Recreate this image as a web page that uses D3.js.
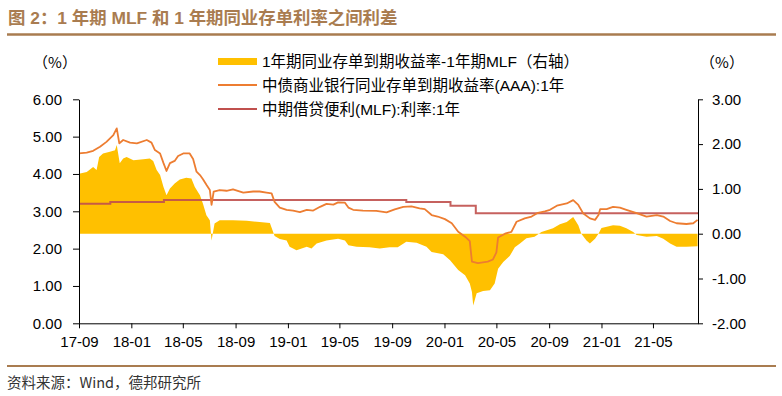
<!DOCTYPE html>
<html>
<head>
<meta charset="utf-8">
<script src="https://cdn.jsdelivr.net/npm/d3@7"></script>
<style>
  body { margin: 0; background: #fff; }
  text { font-family: "Liberation Sans", Arial, "Noto Sans CJK SC", sans-serif; }
</style>
</head>
<body>
<svg id="chart" width="782" height="396"></svg>
<script>
// 1Y NCD (AAA) yield, left axis, %
var ncdSeries = [
  ["2017-09-01",4.55],["2017-09-19",4.57],["2017-10-04",4.62],["2017-10-20",4.73],["2017-11-04",4.86],
  ["2017-11-20",5.04],["2017-11-28",5.22],["2017-12-04",4.82],["2017-12-13",4.91],["2017-12-29",4.84],
  ["2018-01-14",4.82],["2018-02-06",4.91],["2018-02-17",4.84],["2018-02-25",4.64],["2018-03-09",4.55],
  ["2018-03-17",4.29],["2018-03-24",4.08],["2018-04-01",4.29],["2018-04-12",4.35],["2018-04-20",4.48],
  ["2018-05-02",4.55],["2018-05-17",4.55],["2018-05-25",4.40],["2018-06-02",4.06],["2018-06-10",3.97],
  ["2018-06-17",3.86],["2018-06-25",3.71],["2018-07-03",3.57],["2018-07-07",3.17],["2018-07-12",3.53],
  ["2018-07-26",3.57],["2018-08-11",3.55],["2018-08-26",3.59],["2018-09-19",3.50],["2018-10-12",3.53],
  ["2018-10-27",3.53],["2018-11-12",3.50],["2018-11-24",3.48],["2018-12-01",3.25],["2018-12-13",3.10],
  ["2018-12-29",3.04],["2019-01-13",3.02],["2019-01-29",2.98],["2019-02-14",3.04],["2019-03-01",3.02],
  ["2019-03-17",3.12],["2019-04-01",3.20],["2019-04-17",3.18],["2019-04-28",3.24],["2019-05-14",3.23],
  ["2019-05-22",3.10],["2019-06-02",3.04],["2019-06-25",3.02],["2019-07-26",3.01],["2019-08-19",2.97],
  ["2019-09-07",3.05],["2019-09-27",3.12],["2019-10-16",3.13],["2019-11-04",3.08],["2019-11-16",3.06],
  ["2019-12-02",2.90],["2019-12-16",2.86],["2020-01-02",2.79],["2020-01-18",2.68],["2020-02-02",2.45],
  ["2020-02-18",2.32],["2020-02-29",2.20],["2020-03-05",1.65],["2020-03-19",1.61],["2020-04-11",1.65],
  ["2020-04-23",1.71],["2020-05-01",1.90],["2020-05-05",2.30],["2020-05-21",2.40],["2020-06-05",2.45],
  ["2020-06-17",2.72],["2020-07-06",2.81],["2020-07-22",2.86],["2020-08-06",2.96],["2020-08-22",3.00],
  ["2020-09-03",3.04],["2020-09-19",3.15],["2020-10-12",3.21],["2020-10-27",3.30],["2020-11-08",3.17],
  ["2020-11-19",2.95],["2020-12-05",2.81],["2020-12-17",2.77],["2020-12-25",2.90],["2020-12-29",3.06],
  ["2021-01-13",3.06],["2021-01-28",3.12],["2021-02-13",3.10],["2021-02-28",3.04],["2021-03-24",2.95],
  ["2021-04-16",2.86],["2021-05-10",2.90],["2021-05-25",2.86],["2021-06-10",2.74],["2021-06-25",2.68],
  ["2021-07-18",2.66],["2021-08-03",2.68],["2021-08-13",2.77]
]

// 1Y NCD minus 1Y MLF, right axis, %
var spreadSeries = [
  ["2017-09-01",1.34],["2017-09-19",1.38],["2017-10-04",1.49],["2017-10-12",1.42],["2017-10-18",1.71],
  ["2017-10-27",1.79],["2017-11-12",1.83],["2017-11-24",1.86],["2017-11-28",1.98],["2017-12-05",1.57],
  ["2017-12-13",1.68],["2017-12-21",1.71],["2018-01-06",1.64],["2018-01-29",1.66],["2018-02-13",1.68],
  ["2018-02-21",1.62],["2018-03-01",1.42],["2018-03-09",1.31],["2018-03-17",1.04],["2018-03-24",0.86],
  ["2018-04-01",1.01],["2018-04-12",1.12],["2018-04-24",1.21],["2018-05-09",1.25],["2018-05-21",1.23],
  ["2018-05-29",1.04],["2018-06-10",0.86],["2018-06-17",0.67],["2018-06-25",0.41],["2018-07-03",0.30],
  ["2018-07-07",-0.15],["2018-07-14",0.23],["2018-07-26",0.30],["2018-08-26",0.30],["2018-09-27",0.29],
  ["2018-10-27",0.26],["2018-11-20",0.24],["2018-12-01",-0.05],["2018-12-13",-0.12],["2018-12-29",-0.15],
  ["2019-01-05",-0.29],["2019-01-21",-0.37],["2019-02-14",-0.29],["2019-02-25",-0.33],["2019-03-09",-0.22],
  ["2019-04-01",-0.15],["2019-04-28",-0.11],["2019-05-14",-0.15],["2019-05-22",-0.26],["2019-06-10",-0.29],
  ["2019-07-10",-0.30],["2019-08-03",-0.33],["2019-08-26",-0.30],["2019-09-14",-0.30],["2019-10-04",-0.18],
  ["2019-10-28",-0.20],["2019-11-20",-0.29],["2019-12-02",-0.41],["2019-12-29",-0.46],["2020-01-14",-0.59],
  ["2020-02-02",-0.81],["2020-02-18",-0.93],["2020-02-29",-1.11],["2020-03-05",-1.30],["2020-03-08",-1.60],
  ["2020-03-16",-1.33],["2020-03-31",-1.28],["2020-04-16",-1.26],["2020-04-27",-1.11],["2020-05-05",-0.78],
  ["2020-05-17",-0.63],["2020-06-01",-0.50],["2020-06-13",-0.30],["2020-06-25",-0.22],["2020-07-10",-0.10],
  ["2020-07-29",-0.07],["2020-08-14",0.04],["2020-09-10",0.12],["2020-09-26",0.21],["2020-10-12",0.26],
  ["2020-10-27",0.37],["2020-11-08",0.19],["2020-11-15",0.00],["2020-11-27",-0.15],["2020-12-05",-0.22],
  ["2020-12-17",-0.11],["2020-12-25",0.00],["2021-01-01",0.13],["2021-01-28",0.19],["2021-02-13",0.18],
  ["2021-02-28",0.12],["2021-03-16",0.04],["2021-03-24",-0.03],["2021-04-16",-0.07],["2021-05-10",-0.05],
  ["2021-05-25",-0.11],["2021-06-10",-0.22],["2021-06-25",-0.29],["2021-07-18",-0.29],["2021-08-13",-0.28]
]

// MLF 1Y rate changes (step line), left axis
var mlfSeries = [
  ["2017-09-01",3.20],["2017-11-13",3.25],["2018-03-18",3.30],
  ["2019-10-04",3.25],["2020-01-15",3.15],["2020-03-14",2.95]
]

var leftTicks = [0, 1, 2, 3, 4, 5, 6]
var rightTicks = [-2, -1, 0, 1, 2, 3]
var xTickLabels = ["17-09","18-01","18-05","18-09","19-01","19-05","19-09","20-01","20-05","20-09","21-01","21-05"]

var legendNames = ["1年期同业存单到期收益率-1年期MLF（右轴）", "中债商业银行同业存单到期收益率(AAA):1年", "中期借贷便利(MLF):利率:1年"]
var colors = { spread: "#FFC000", ncd: "#ED7D31", mlf: "#C0504D" }

var parse = d3.timeParse("%Y-%m-%d")
var parseTick = d3.timeParse("%y-%m")
var endDate = parse("2021-08-14")

var svg = d3.select("#chart")
svg.append("rect").attr("width", 782).attr("height", 396).attr("fill", "#fff")

// ---------- title ----------
svg.append("text")
  .attr("x", 8).attr("y", 24)
  .style("font-family", "'Liberation Sans', 'Noto Sans CJK SC', sans-serif")
  .style("font-size", "17.4px").style("font-weight", "bold")
  .attr("fill", "#A97C50")
  .text("图 2：1 年期 MLF 和 1 年期同业存单利率之间利差")
svg.append("line").attr("x1", 7).attr("x2", 776).attr("y1", 34.5).attr("y2", 34.5)
  .attr("stroke", "#A97C50").attr("stroke-width", 2.5)

// ---------- scales ----------
var x = d3.scaleTime().domain([parse("2017-09-01"), endDate]).range([79, 698])
var yL = d3.scaleLinear().domain([0, 6]).range([323.3, 99.3])
var yR = d3.scaleLinear().domain([-2, 3]).range([323.3, 99.3])

// ---------- marks ----------
var spread = spreadSeries.map(function(d){ return { date: parse(d[0]), v: d[1] } })
svg.append("path")
  .datum(spread)
  .attr("fill", colors.spread)
  .attr("d", d3.area().x(function(d){ return x(d.date) }).y0(yR(0)).y1(function(d){ return yR(d.v) }))

var mlf = mlfSeries.map(function(d){ return { date: parse(d[0]), v: d[1] } })
mlf.push({ date: endDate, v: mlf[mlf.length - 1].v })
svg.append("path")
  .datum(mlf)
  .attr("fill", "none").attr("stroke", colors.mlf).attr("stroke-width", 2).attr("stroke-opacity", 0.9)
  .attr("d", d3.line().curve(d3.curveStepAfter).x(function(d){ return x(d.date) }).y(function(d){ return yL(d.v) }))

var ncd = ncdSeries.map(function(d){ return { date: parse(d[0]), v: d[1] } })
svg.append("path")
  .datum(ncd)
  .attr("fill", "none").attr("stroke", colors.ncd).attr("stroke-width", 1.8)
  .attr("stroke-linejoin", "round")
  .attr("d", d3.line().x(function(d){ return x(d.date) }).y(function(d){ return yL(d.v) }))

// ---------- axes ----------
// plain hyphen for negatives, like the source chart
var fmt = function(v){ return d3.format(".2f")(v).replace("\u2212", "-") }
var gL = svg.append("g").attr("transform", "translate(79,0)")
  .call(d3.axisLeft(yL).tickValues(leftTicks).tickFormat(fmt).tickSize(6).tickPadding(11).tickSizeOuter(0))
var gR = svg.append("g").attr("transform", "translate(698,0)")
  .call(d3.axisRight(yR).tickValues(rightTicks).tickFormat(fmt).tickSize(5).tickPadding(9).tickSizeOuter(0))
var gX = svg.append("g").attr("transform", "translate(0,323.3)")
  .call(d3.axisBottom(x).tickValues(xTickLabels.map(function(s){ return parseTick(s) }))
    .tickFormat(d3.timeFormat("%y-%m")).tickSize(5).tickPadding(8).tickSizeOuter(0))

;[gL, gR, gX].forEach(function(g){
  g.selectAll("text").style("font-size", "15px").attr("fill", "#000")
    .style("font-family", "'Liberation Sans', Arial, sans-serif")
  g.selectAll("line, path").attr("stroke", "#000")
})

// unit labels
svg.append("text").attr("x", 55).attr("y", 68).attr("text-anchor", "middle")
  .style("font-size", "15px").style("font-family", "'Noto Sans CJK SC', sans-serif").text("（%）")
svg.append("text").attr("x", 722).attr("y", 68).attr("text-anchor", "middle")
  .style("font-size", "15px").style("font-family", "'Noto Sans CJK SC', sans-serif").text("（%）")

// ---------- legend ----------
var legend = svg.append("g")
legend.append("rect").attr("x", 218).attr("y", 58).attr("width", 39).attr("height", 7).attr("fill", colors.spread)
legend.append("line").attr("x1", 218).attr("x2", 257).attr("y1", 85).attr("y2", 85)
  .attr("stroke", colors.ncd).attr("stroke-width", 1.8)
legend.append("line").attr("x1", 218).attr("x2", 257).attr("y1", 109).attr("y2", 109)
  .attr("stroke", colors.mlf).attr("stroke-width", 2)
legend.selectAll("text.leg")
  .data(legendNames)
  .enter()
  .append("text")
    .attr("class", "leg")
    .attr("x", 262)
    .attr("y", function(d, i){ return [62, 85.5, 109.5][i] })
    .attr("dy", "0.35em")
    .style("font-size", "15.5px")
    .style("font-family", "'Liberation Sans', 'Noto Sans CJK SC', sans-serif")
    .text(function(d){ return d })

// ---------- footer ----------
svg.append("line").attr("x1", 7).attr("x2", 776).attr("y1", 366).attr("y2", 366)
  .attr("stroke", "#A97C50").attr("stroke-width", 2)
svg.append("text").attr("x", 7).attr("y", 388)
  .style("font-size", "14.5px").style("font-family", "'Noto Sans CJK SC', sans-serif").attr("fill", "#333")
  .text("资料来源：Wind，德邦研究所")
</script>
</body>
</html>
